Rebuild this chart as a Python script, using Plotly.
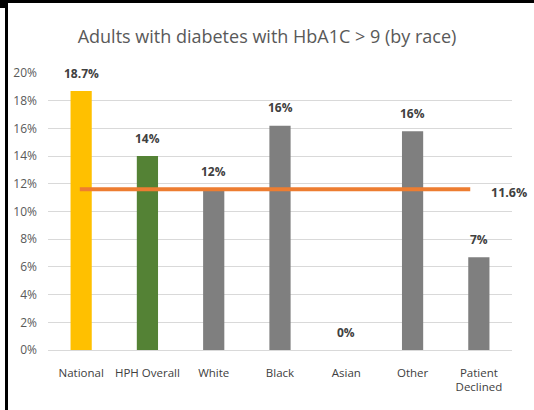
"""HbA1C > 9 by race — bar chart with benchmark line."""

import plotly.graph_objects as go

# data
categories = ["National", "HPH Overall", "White", "Black", "Asian", "Other", "Patient<br>Declined"]
values = [18.7, 14.0, 11.6, 16.2, 0.0, 15.8, 6.7]
value_labels = ["18.7%", "14%", "12%", "16%", "0%", "16%", "7%"]
bar_colors = ["#FFC000", "#548235", "#7F7F7F", "#7F7F7F", "#7F7F7F", "#7F7F7F", "#7F7F7F"]
benchmark = 11.6
benchmark_label = "11.6%"
tick_vals = [0, 2, 4, 6, 8, 10, 12, 14, 16, 18, 20]
tick_text = [f"{v}%" for v in tick_vals]

_FONT = "Open Sans"
_TEXT_GRAY = "#595959"
_LABEL_GRAY = "#404040"

# plot area in pixels (for frame shapes)
W, H = 534, 410
L, R, T, B = 48, 22, 73, 60
pw, ph = W - L - R, H - T - B


def px_x(px):
    return (px - L) / pw


def px_y(py):
    return (H - B - py) / ph


fig = go.Figure(go.Bar(
    x=categories,
    y=values,
    marker=dict(color=bar_colors, line=dict(width=0)),
    hoverinfo="skip",
))

# data labels above bars
for cat, val, lab in zip(categories, values, value_labels):
    fig.add_annotation(
        x=cat, y=val, text=f"<b>{lab}</b>", showarrow=False,
        yshift=18, font=dict(family=_FONT, size=12, color=_LABEL_GRAY),
    )

# benchmark line
fig.add_shape(
    type="line", xref="x", yref="y",
    x0=-0.02, x1=5.87, y0=benchmark, y1=benchmark,
    line=dict(color="#ED7D31", width=4),
)
fig.add_annotation(
    xref="paper", yref="y", x=px_x(489), xanchor="left", y=benchmark, yshift=-3,
    text=f"<b>{benchmark_label}</b>", showarrow=False,
    font=dict(family=_FONT, size=12.5, color=_LABEL_GRAY),
)

# black frame pieces (top band, left line, corner block)
frame = [
    (0, 0, W, 3),
    (0, 0, 7, 8),
    (5, 0, 8, H),
]
for x0, y0, x1, y1 in frame:
    fig.add_shape(
        type="rect", xref="paper", yref="paper",
        x0=px_x(x0), x1=px_x(x1), y0=px_y(y0), y1=px_y(y1),
        fillcolor="black", line=dict(width=0), layer="above",
    )

fig.update_layout(
    width=W, height=H,
    title=dict(
        text="Adults with diabetes with HbA1C > 9 (by race)",
        x=0.5, xanchor="center", y=1 - 37 / H, yanchor="middle",
        font=dict(family=_FONT, size=18, color=_TEXT_GRAY),
    ),
    paper_bgcolor="white",
    plot_bgcolor="white",
    margin=dict(l=L, r=R, t=T, b=B, autoexpand=False),
    bargap=0.68,
    showlegend=False,
    font=dict(family=_FONT, size=12, color=_TEXT_GRAY),
    xaxis=dict(
        showgrid=False, showline=False, ticks="",
        ticklabelstandoff=14,
        tickfont=dict(family=_FONT, size=11.5, color=_LABEL_GRAY),
    ),
    yaxis=dict(
        range=[0, 20], tickvals=tick_vals, ticktext=tick_text,
        showgrid=True, gridcolor="#D9D9D9", gridwidth=1,
        zeroline=True, zerolinecolor="#D9D9D9", zerolinewidth=1,
        showline=False, ticks="", ticklabelstandoff=10,
        tickfont=dict(family=_FONT, size=12, color=_TEXT_GRAY),
    ),
)

# page body has a default 8px margin; drop it so the figure fills the window
fig.write_html(
    "out.html",
    config={"displayModeBar": False},
    post_script="document.body.style.margin='0';",
)
